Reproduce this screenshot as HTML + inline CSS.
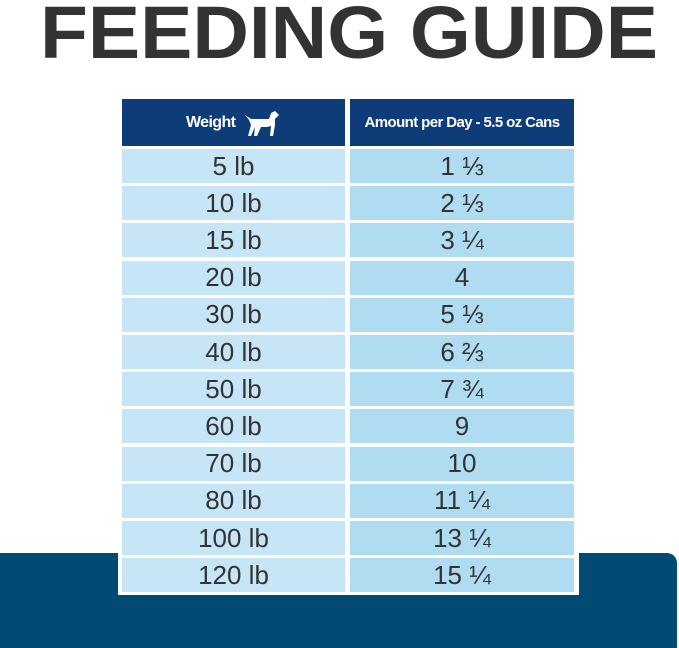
<!DOCTYPE html>
<html><head><style>
body{margin:0;width:679px;height:648px;background:#fff;position:relative;overflow:hidden;font-family:"Liberation Sans",sans-serif}
.bg{position:absolute;left:0;top:553px;width:677px;height:95px;background:#004a74;border-top-right-radius:10px}
.tbl{position:absolute;left:118px;top:97px;width:461px;height:498px;background:#fff}
.c{position:absolute;display:flex;align-items:center;justify-content:center;color:#333;font-size:26px;white-space:nowrap}
.l{left:4px;width:223px;background:#c6e5f6}
.r{left:232px;width:224px;background:#afdcf0}
.h{background:#0d3c78;color:#fff;font-weight:bold;font-size:16px;top:2px;height:47px;letter-spacing:-0.6px}
</style></head><body>
<svg style="position:absolute;left:0;top:0" width="679" height="70"><text x="40" y="58" textLength="618" lengthAdjust="spacingAndGlyphs" font-family="Liberation Sans" font-weight="bold" font-size="74" fill="#333">FEEDING GUIDE</text></svg>
<div class="bg"></div>
<div class="tbl">
<div class="c h" style="left:4px;width:223px">Weight&nbsp;&nbsp;<svg width="38" height="28" viewBox="0 0 38 28"><path d="M2 6 L8 10 L26 10 L28 4 L32 2 L36 6 L32 10 L32 16 L30 27 L27 27 L28 17 L24 18 L18 18 L14 27 L11 27 L12 18 L8 27 L5 27 L8 16 L6 11 Z" fill="#fff"/></svg></div>
<div class="c h" style="left:232px;width:224px;font-size:15px">Amount per Day - 5.5 oz Cans</div>
</div>
<div id="rows"></div>
<script>
var d=[["5 lb","1 ⅓"],["10 lb","2 ⅓"],["15 lb","3 ¼"],["20 lb","4"],["30 lb","5 ⅓"],["40 lb","6 ⅔"],["50 lb","7 ¾"],["60 lb","9"],["70 lb","10"],["80 lb","11 ¼"],["100 lb","13 ¼"],["120 lb","15 ¼"]];
var t=document.querySelector('.tbl'),h='';
d.forEach(function(r,i){var y=52+i*37.2;h+='<div class="c l" style="top:'+y+'px;height:34px">'+r[0]+'</div><div class="c r" style="top:'+y+'px;height:34px">'+r[1]+'</div>';});
t.insertAdjacentHTML('beforeend',h);
</script>
</body></html>
